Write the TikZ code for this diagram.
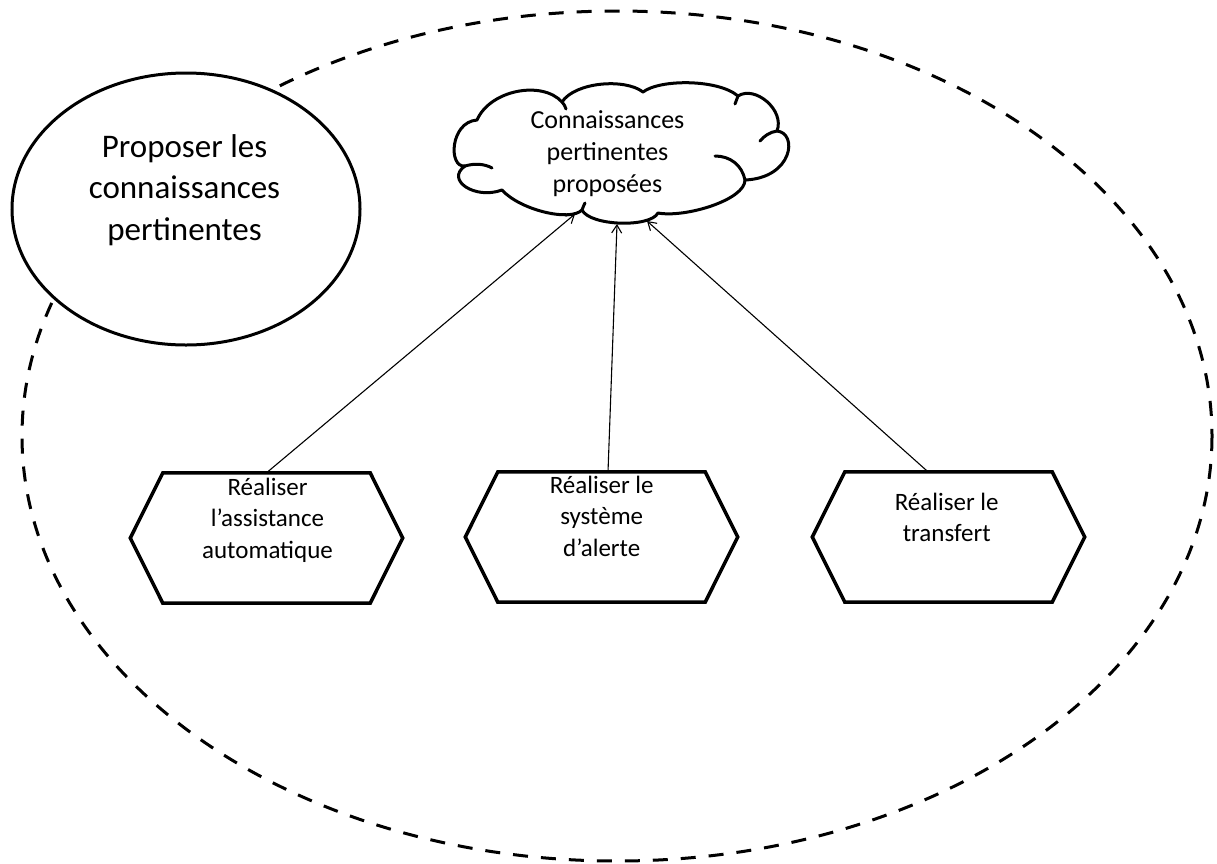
\documentclass[tikz,border=0pt]{standalone}
\usepackage{fontspec}
\setmainfont{Carlito}
\usetikzlibrary{shapes.geometric,arrows.meta}
\begin{document}
\begin{tikzpicture}[x=1pt,y=-1pt,
  dashline/.style={line width=3pt, dash pattern=on 15pt off 13pt},
  solidline/.style={line width=3pt},
  cloudline/.style={line width=3pt, line join=round, line cap=round},
  hexbox/.style={draw=none, minimum width=207pt, minimum height=130pt, inner sep=0pt},
  hexline/.style={line width=3.5pt, line join=miter, fill=white},
  lbl/.style={inner sep=0pt, anchor=base},
  conn/.style={line width=1.1pt, -{Straight Barb[length=8pt,width=10pt,line width=1.1pt]}},
]
\useasboundingbox (0,0) rectangle (1217,863);
\fill[white] (0,0) rectangle (1217,863);

% outer dashed boundary
\draw[dashline] (617,436) ellipse [x radius=595, y radius=425];

% solid ellipse
\node[draw, solidline, fill=white, ellipse, minimum width=348pt, minimum height=272pt, inner sep=0pt] (goal) at (186,209) {};
\node[lbl, font=\fontsize{33}{41.5}\selectfont] (goaltxt) at (184.5,157)
  {\begin{tabular}[t]{@{}c@{}}Proposer les\\connaissances\\pertinentes\end{tabular}};

% cloud (outline drawn as puffs around the named area cl)
\node[draw=none, minimum width=327pt, minimum height=139pt, inner sep=0pt] (cl) at (618,153.5) {};
\coordinate (p0) at (465,166);
\coordinate (p1) at (477,120);
\coordinate (p2) at (562,102);
\coordinate (p3) at (643,92);
\coordinate (p4) at (738,96);
\coordinate (p5) at (777,131);
\coordinate (p6) at (745,180);
\coordinate (p7) at (658,213);
\coordinate (p8) at (582,210);
\coordinate (p9) at (502,190);
\draw[cloudline, fill=white]
  (p0) .. controls (448,168) and (450,122) .. (p1)
       .. controls (490,90) and (542,80) .. (p2)
       .. controls (575,82) and (625,78) .. (p3)
       .. controls (660,79) and (718,79) .. (p4)
       .. controls (755,85) and (785,110) .. (p5)
       .. controls (798,133) and (793,178) .. (p6)
       .. controls (745,200) and (685,218) .. (p7)
       .. controls (650,228) and (590,226) .. (p8)
       .. controls (570,222) and (520,210) .. (p9)
       .. controls (475,200) and (445,180) .. (p0) -- cycle;
% inner curls of the cloud
\draw[cloudline] (p0) .. controls (475,163) and (485,164) .. (492,168);
\draw[cloudline] (p5) .. controls (770,132) and (764,136) .. (760,141);
\draw[cloudline] (p6) .. controls (742,165) and (730,156) .. (715,156);
\draw[cloudline] (p2) .. controls (564,104) and (565,106) .. (566,109);
\draw[cloudline] (p4) .. controls (737,99) and (736,101) .. (735,104);
\draw[cloudline] (p8) .. controls (583,207) and (584,205) .. (585,203);

\node[lbl, font=\fontsize{26}{32}\selectfont] (cltxt) at (607.5,128)
  {\begin{tabular}[t]{@{}c@{}}Connaissances\\pertinentes\\proposées\end{tabular}};

% hexagons
\node[hexbox] (h1) at (266.5,538) {};
\node[hexbox] (h2) at (601.5,537) {};
\node[hexbox] (h3) at (948.5,537) {};
\foreach \n in {h1,h2,h3}
  \draw[hexline] (\n.north west) -- (\n.north east) -- ([xshift=32.5pt]\n.east)
    -- (\n.south east) -- (\n.south west) -- ([xshift=-32.5pt]\n.west) -- cycle;

\node[lbl, font=\fontsize{25}{31.5}\selectfont] (t1) at (267.5,495)
  {\begin{tabular}[t]{@{}c@{}}Réaliser\\l’assistance\\automatique\end{tabular}};
\node[lbl, font=\fontsize{25}{31.5}\selectfont] (t2) at (601.7,493)
  {\begin{tabular}[t]{@{}c@{}}Réaliser le\\système\\d’alerte\end{tabular}};
\node[lbl, font=\fontsize{25}{31.5}\selectfont] (t3) at (946.7,510)
  {\begin{tabular}[t]{@{}c@{}}Réaliser le\\transfert\end{tabular}};

% connector end points
\coordinate (s1) at (h1.north);
\coordinate (s2) at ([xshift=6.5pt]h2.north);
\coordinate (s3) at ([xshift=-20.5pt]h3.north);
\coordinate (e1) at (575,214);
\coordinate (e2) at (617,224);
\coordinate (e3) at (647,221);

\draw[conn] (s1) -- (e1);
\draw[conn] (s2) -- (e2);
\draw[conn] (s3) -- (e3);
\end{tikzpicture}
\end{document}
